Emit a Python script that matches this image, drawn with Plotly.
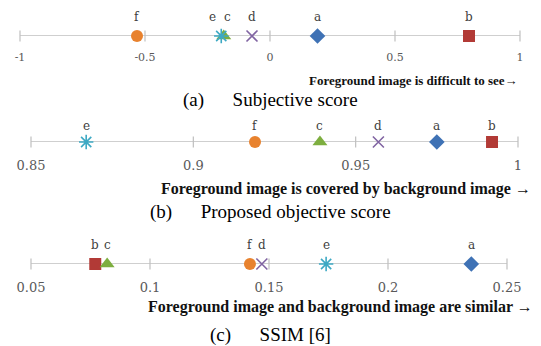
import plotly.graph_objects as go

W, H = 541, 346

names = ["a", "b", "c", "d", "e", "f"]
subjective = [0.19, 0.796, -0.185, -0.072, -0.195, -0.532]
proposed = [0.975, 0.992, 0.939, 0.957, 0.867, 0.919]
ssim = [0.235, 0.077, 0.082, 0.147, 0.174, 0.142]

ticks_a = [-1, -0.5, 0, 0.5, 1]
ticktext_a = ["-1", "-0.5", "0", "0.5", "1"]
ticks_b = [0.85, 0.9, 0.95, 1]
ticktext_b = ["0.85", "0.9", "0.95", "1"]
ticks_c = [0.05, 0.1, 0.15, 0.2, 0.25]
ticktext_c = ["0.05", "0.1", "0.15", "0.2", "0.25"]

axis_titles = ["Foreground image is difficult to see\u2192",
               "Foreground image is covered by background image \u2192",
               "Foreground image and background image are similar \u2192"]
SP = "\u00a0" * 6
captions = ["(a)" + SP + "Subjective score",
            "(b)" + SP + "Proposed objective score",
            "(c)" + SP + "SSIM [6]"]

symbols = ["diamond", "square", "triangle-up", "x-thin-open", "asterisk-open", "circle"]
colors = ["#3F72B5", "#B23A36", "#7DAE3F", "#8064A2", "#3DA9C4", "#E8822E"]
sizes = [12, 12, 13, 11, 12, 12]

# layout per panel (pixel positions)
panels = [
    dict(vals=subjective, ticks=ticks_a, tt=ticktext_a, rng=[-1, 1], x0=20, x1=520,
         line_y=36, lab_dy=19, tickfont=11, standoff=13, title_y=80, title_x=520, title_fs=13,
         cap_y=100, lab_dx=[0, 0, 4, 0, -9, 0]),
    dict(vals=proposed, ticks=ticks_b, tt=ticktext_b, rng=[0.85, 1], x0=31, x1=518,
         line_y=142, lab_dy=16, tickfont=13, standoff=14, title_y=189, title_x=533, title_fs=16,
         cap_y=212, lab_dx=[0, 0, 0, 0, 0, 0]),
    dict(vals=ssim, ticks=ticks_c, tt=ticktext_c, rng=[0.05, 0.25], x0=31, x1=507,
         line_y=264, lab_dy=19, tickfont=13, standoff=14, title_y=307, title_x=535, title_fs=16,
         cap_y=335, lab_dx=[0, 0, 0, 0, 0, 0]),
]

fig = go.Figure()
annotations = []
SERIF = "DejaVu Serif, Liberation Serif, serif"
LINE = "#BFBFBF"

for i, p in enumerate(panels):
    k = "" if i == 0 else str(i + 1)
    xa, ya = "x" + k, "y" + k
    # axis line
    fig.add_trace(go.Scatter(x=p["rng"], y=[0, 0], mode="lines", xaxis=xa, yaxis=ya,
                             line=dict(color=LINE, width=1.5), hoverinfo="skip",
                             showlegend=False, cliponaxis=False))
    # tick marks
    fig.add_trace(go.Scatter(x=p["ticks"], y=[0] * len(p["ticks"]), mode="markers",
                             xaxis=xa, yaxis=ya, hoverinfo="skip", showlegend=False,
                             cliponaxis=False,
                             marker=dict(symbol="line-ns", size=8,
                                         line=dict(color=LINE, width=1.2))))
    for j, n in enumerate(names):
        open_sym = symbols[j].endswith("open")
        mk = dict(symbol=symbols[j], size=sizes[j], color=colors[j])
        if open_sym:
            mk["line"] = dict(color=colors[j], width=1.6)
        else:
            mk["line"] = dict(width=0)
        fig.add_trace(go.Scatter(x=[p["vals"][j]], y=[0], mode="markers", xaxis=xa, yaxis=ya,
                                 marker=mk, name=n, showlegend=False, cliponaxis=False))
        annotations.append(dict(x=p["vals"][j], y=0, xref=xa, yref=ya, text=n,
                                showarrow=False, yshift=p["lab_dy"], xshift=p["lab_dx"][j],
                                font=dict(family=SERIF, size=12, color="#404040")))
    dom_y = [1 - (p["line_y"]) / H, 1 - (p["line_y"] - 25) / H]
    axis = dict(domain=[p["x0"] / W, p["x1"] / W], range=p["rng"], anchor=ya,
                showgrid=False, zeroline=False, showline=False, ticks="", automargin=False,
                tickvals=p["ticks"], ticktext=p["tt"], ticklabelstandoff=p["standoff"],
                tickfont=dict(family=SERIF, size=p["tickfont"], color="#595959"))
    yaxis = dict(domain=dom_y, range=[0, 1], anchor=xa, visible=False, fixedrange=True,
                 automargin=False)
    fig.layout["xaxis" + k] = axis
    fig.layout["yaxis" + k] = yaxis
    annotations.append(dict(x=p["title_x"] / W, y=1 - p["title_y"] / H, xref="paper", yref="paper",
                            xanchor="right", yanchor="middle", showarrow=False,
                            text="<b>" + axis_titles[i] + "</b>",
                            font=dict(family="Liberation Serif", size=p["title_fs"], color="#111111")))
    annotations.append(dict(x=270 / W, y=1 - p["cap_y"] / H, xref="paper", yref="paper",
                            xanchor="center", yanchor="middle", showarrow=False,
                            text=captions[i],
                            font=dict(family="Liberation Serif", size=19, color="#000000")))

fig.update_layout(width=W, height=H, margin=dict(l=0, r=0, t=0, b=0, autoexpand=False),
                  paper_bgcolor="white", plot_bgcolor="white",
                  annotations=annotations, showlegend=False)

fig.write_html("out.html", config={"displayModeBar": False},
               post_script="document.body.style.margin='0px';document.body.style.overflow='hidden';")
